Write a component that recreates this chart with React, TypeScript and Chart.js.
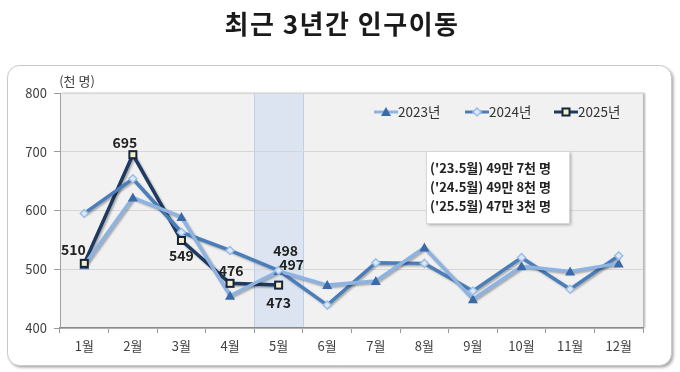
import React, { useEffect, useRef } from "react";
import { Chart, registerables } from "chart.js";

Chart.register(...registerables);

const months = ["1월", "2월", "3월", "4월", "5월", "6월", "7월", "8월", "9월", "10월", "11월", "12월"];
const series2023 = [507, 622, 589, 455, 497, 473, 480, 537, 449, 505, 496, 510];
const series2024 = [595, 654, 563, 532, 498, 439, 511, 510, 463, 520, 466, 523];
const series2025 = [510, 695, 549, 476, 473, null, null, null, null, null, null, null];
const seriesNames = ["2023년", "2024년", "2025년"];
const noteLines = ["('23.5월) 49만 7천 명", "('24.5월) 49만 8천 명", "('25.5월) 47만 3천 명"];
const titleText = "최근 3년간 인구이동";
const unitText = "(천 명)";
const highlightIndex = 4;
// value labels: [datasetIndex, pointIndex, dx, dy]
const valueLabels: [number, number, number, number][] = [
  [2, 0, -11, -14],
  [2, 1, -8, -12],
  [2, 2, 0, 15],
  [2, 3, 1, -13],
  [2, 4, 0, 18],
  [1, 4, 7, -20],
  [0, 4, 13, -6],
];

const FONT = "'Noto Sans CJK KR', 'Noto Sans', sans-serif";
const C23 = "#8db3e2";
const C24 = "#4a7ebb";
const C25 = "#1f3a60";

function drawMarker(ctx: CanvasRenderingContext2D, kind: number, x: number, y: number) {
  ctx.save();
  ctx.lineWidth = 1.5;
  if (kind === 0) {
    ctx.fillStyle = "#3a6aa8";
    ctx.beginPath();
    ctx.moveTo(x, y - 5);
    ctx.lineTo(x + 5, y + 4);
    ctx.lineTo(x - 5, y + 4);
    ctx.closePath();
    ctx.fill();
  } else if (kind === 1) {
    ctx.fillStyle = "#dce8f6";
    ctx.strokeStyle = "#9dbde6";
    ctx.beginPath();
    ctx.moveTo(x, y - 4);
    ctx.lineTo(x + 4, y);
    ctx.lineTo(x, y + 4);
    ctx.lineTo(x - 4, y);
    ctx.closePath();
    ctx.fill();
    ctx.stroke();
  } else {
    ctx.fillStyle = "#f3f0c8";
    ctx.strokeStyle = "#14243c";
    ctx.lineWidth = 2;
    ctx.fillRect(x - 3.5, y - 3.5, 7, 7);
    ctx.strokeRect(x - 3.5, y - 3.5, 7, 7);
  }
  ctx.restore();
}

const decorPlugin = {
  id: "decor",
  beforeDraw(chart: any) {
    const ctx = chart.ctx as CanvasRenderingContext2D;
    const a = chart.chartArea;
    ctx.save();
    ctx.fillStyle = "#ffffff";
    ctx.fillRect(0, 0, chart.width, chart.height);
    // outer rounded box with shadow
    ctx.shadowColor = "rgba(0,0,0,0.35)";
    ctx.shadowOffsetX = 2;
    ctx.shadowOffsetY = 2;
    ctx.shadowBlur = 3;
    ctx.fillStyle = "#ffffff";
    ctx.strokeStyle = "#c8c8c8";
    ctx.lineWidth = 1;
    ctx.beginPath();
    (ctx as any).roundRect(7.5, 65.5, 664, 300, 12);
    ctx.fill();
    ctx.shadowColor = "transparent";
    ctx.stroke();
    // plot area background
    ctx.shadowColor = "rgba(0,0,0,0.3)";
    ctx.shadowOffsetX = 2;
    ctx.shadowOffsetY = 0;
    ctx.shadowBlur = 2;
    ctx.fillStyle = "#f1f1f1";
    ctx.fillRect(a.left, a.top, a.right - a.left, a.bottom - a.top);
    ctx.shadowColor = "transparent";
    // highlight band
    const xs = chart.scales.x;
    const x0 = xs.getPixelForValue(highlightIndex) - xs.width / months.length / 2;
    const x1 = x0 + xs.width / months.length;
    ctx.fillStyle = "rgba(205,220,240,0.6)";
    ctx.fillRect(x0, a.top, x1 - x0, a.bottom - a.top);
    ctx.strokeStyle = "#bcd0e8";
    ctx.lineWidth = 1;
    ctx.strokeRect(Math.round(x0) + 0.5, a.top + 0.5, Math.round(x1 - x0), a.bottom - a.top);
    // title
    ctx.fillStyle = "#1a1a1a";
    ctx.font = `bold 26px ${FONT}`;
    (ctx as any).letterSpacing = "1.5px";
    ctx.textAlign = "center";
    ctx.textBaseline = "middle";
    ctx.fillText(titleText, 342, 24);
    (ctx as any).letterSpacing = "0px";
    // unit
    ctx.font = `13px ${FONT}`;
    ctx.fillStyle = "#404040";
    ctx.fillText(unitText, 77, 81);
    ctx.restore();
  },
  beforeDatasetsDraw(chart: any) {
    const ctx = chart.ctx as CanvasRenderingContext2D;
    ctx.save();
    ctx.shadowColor = "rgba(0,0,0,0.3)";
    ctx.shadowOffsetX = 1.5;
    ctx.shadowOffsetY = 1.5;
    ctx.shadowBlur = 2;
  },
  afterDatasetsDraw(chart: any) {
    const ctx = chart.ctx as CanvasRenderingContext2D;
    ctx.restore();
    ctx.save();
    // markers
    chart.data.datasets.forEach((ds: any, di: number) => {
      const meta = chart.getDatasetMeta(di);
      meta.data.forEach((pt: any, i: number) => {
        if (ds.data[i] == null) return;
        drawMarker(ctx, di, pt.x, pt.y);
      });
    });
    // value labels
    ctx.font = `bold 14px ${FONT}`;
    ctx.fillStyle = "#222222";
    ctx.textAlign = "center";
    ctx.textBaseline = "middle";
    valueLabels.forEach(([di, i, dx, dy]) => {
      const pt = chart.getDatasetMeta(di).data[i];
      const v = chart.data.datasets[di].data[i];
      ctx.fillText(String(v), pt.x + dx, pt.y + dy);
    });
    // legend
    const legendX = [374, 465, 554];
    const colors = [C23, C24, C25];
    ctx.font = `13.5px ${FONT}`;
    ctx.textAlign = "left";
    ctx.fillStyle = "#333333";
    legendX.forEach((lx, k) => {
      ctx.strokeStyle = colors[k];
      ctx.lineWidth = 3;
      ctx.beginPath();
      ctx.moveTo(lx, 112);
      ctx.lineTo(lx + 24, 112);
      ctx.stroke();
      drawMarker(ctx, k, lx + 12, 112);
      ctx.fillStyle = "#333333";
      ctx.fillText(seriesNames[k], lx + 24, 112);
    });
    // note box
    ctx.save();
    ctx.shadowColor = "rgba(0,0,0,0.3)";
    ctx.shadowOffsetX = 2;
    ctx.shadowOffsetY = 2;
    ctx.shadowBlur = 3;
    ctx.fillStyle = "#ffffff";
    ctx.fillRect(426, 151, 143, 72);
    ctx.restore();
    ctx.strokeStyle = "#d8d8d8";
    ctx.lineWidth = 1;
    ctx.strokeRect(426.5, 151.5, 143, 72);
    ctx.font = `bold 13px ${FONT}`;
    ctx.fillStyle = "#222222";
    noteLines.forEach((t, k) => {
      ctx.fillText(t, 430, 168 + k * 19);
    });
    ctx.restore();
  },
};

export default function App() {
  const ref = useRef<HTMLCanvasElement>(null);
  useEffect(() => {
    const ds = (label: string, data: any[], color: string, width: number) => ({
      label,
      data,
      borderColor: color,
      backgroundColor: color,
      borderWidth: width,
      pointRadius: 0,
      pointHoverRadius: 0,
      tension: 0,
      spanGaps: false,
    });
    const chart = new Chart(ref.current as HTMLCanvasElement, {
      type: "line",
      data: {
        labels: months,
        datasets: [
          ds(seriesNames[0], series2023, C23, 3.5),
          ds(seriesNames[1], series2024, C24, 3.5),
          ds(seriesNames[2], series2025, C25, 3.5),
        ],
      },
      options: {
        animation: false,
        responsive: false,
        events: [],
        layout: { padding: { left: 0, top: 93, right: 37, bottom: 14 } },
        plugins: { legend: { display: false }, tooltip: { enabled: false }, title: { display: false } },
        scales: {
          x: {
            offset: true,
            grid: { offset: true, drawOnChartArea: false, drawTicks: true, tickLength: 5, tickColor: "#9a9a9a" },
            border: { color: "#8a8a8a", width: 1.5 },
            ticks: { font: { family: FONT, size: 13 }, color: "#404040", padding: 5, maxRotation: 0 },
            afterFit: (s: any) => { s.height = 30; },
          },
          y: {
            min: 400,
            max: 800,
            ticks: { stepSize: 100, font: { family: FONT, size: 13 }, color: "#404040", padding: 7 },
            grid: { color: "#d6d6d6", drawTicks: true, tickLength: 6, tickColor: "#9a9a9a" },
            border: { color: "#a0a0a0" },
            afterFit: (s: any) => { s.width = 60; },
          },
        },
      },
      plugins: [decorPlugin],
    });
    return () => chart.destroy();
  }, []);
  return (
    <div style={{ position: "fixed", left: 0, top: 0, width: 680, height: 372, background: "#fff" }}>
      <canvas ref={ref} width={680} height={372} style={{ width: 680, height: 372 }} />
    </div>
  );
}
